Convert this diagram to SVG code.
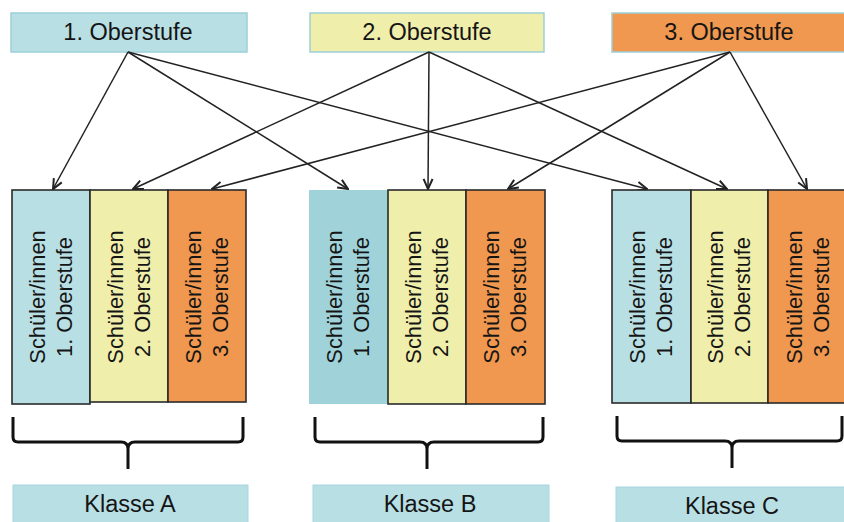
<svg xmlns="http://www.w3.org/2000/svg" width="844" height="522" viewBox="0 0 844 522">
  <defs>
    <style>
      .lbl { font-family: "Liberation Sans", Arial, sans-serif; font-size: 23.5px; fill: #151515; text-anchor: middle; }
      .vt { font-family: "Liberation Sans", Arial, sans-serif; font-size: 21.8px; fill: #151515; text-anchor: middle; }
      .head { stroke: #9ccfd8; stroke-width: 1.5; }
      .cell { stroke: #2a2a2a; stroke-width: 1.6; }
      .blue { fill: #b8dfe4; }
      .blue2 { fill: #9fd3d9; }
      .yellow { fill: #f0eeab; }
      .orange { fill: #f0984f; }
      .klasse { fill: #b8dfe4; stroke: #a8d6dd; stroke-width: 1; }
      .brace { fill: none; stroke: #111; stroke-width: 3; stroke-linejoin: round; }
      .conn line { stroke: #222; stroke-width: 1.5; marker-end: url(#arr); }
    </style>
    <marker id="arr" viewBox="0 0 12 12" refX="11" refY="6" markerWidth="12" markerHeight="12" markerUnits="userSpaceOnUse" orient="auto">
      <path d="M1,1.5 L11,6 L1,10.5" fill="none" stroke="#222" stroke-width="2"/>
    </marker>
  </defs>
  <rect width="844" height="522" fill="#ffffff"/>

  <!-- level headers -->
  <g id="stufe1">
    <rect class="head blue" x="11" y="13" width="236" height="39"/>
    <text class="lbl" x="128" y="40">1. Oberstufe</text>
  </g>
  <g id="stufe2">
    <rect class="head yellow" x="310" y="13" width="234" height="39"/>
    <text class="lbl" x="427" y="40">2. Oberstufe</text>
  </g>
  <g id="stufe3">
    <rect class="head orange" x="612" y="13" width="240" height="39"/>
    <text class="lbl" x="729" y="40">3. Oberstufe</text>
  </g>

  <!-- connectors -->
  <g id="connectors" class="conn">
    <line x1="128" y1="52" x2="53" y2="189"/>
    <line x1="128" y1="52" x2="348" y2="189"/>
    <line x1="128" y1="52" x2="647" y2="189"/>
    <line x1="429" y1="52" x2="133" y2="189"/>
    <line x1="429" y1="52" x2="428" y2="189"/>
    <line x1="429" y1="52" x2="727" y2="189"/>
    <line x1="730" y1="52" x2="212" y2="189"/>
    <line x1="730" y1="52" x2="508" y2="189"/>
    <line x1="730" y1="52" x2="807" y2="189"/>
  </g>

  <!-- class A -->
  <g id="klasseA-cells">
    <rect class="cell blue" x="12" y="190" width="78" height="214"/>
    <rect class="cell yellow" x="90" y="190" width="78" height="212"/>
    <rect class="cell orange" x="168" y="190" width="78" height="212"/>
    <text class="vt" transform="translate(45,297) rotate(-90)"><tspan x="0" y="0">Schüler/innen</tspan><tspan x="0" y="27">1. Oberstufe</tspan></text>
    <text class="vt" transform="translate(123,297) rotate(-90)"><tspan x="0" y="0">Schüler/innen</tspan><tspan x="0" y="27">2. Oberstufe</tspan></text>
    <text class="vt" transform="translate(201,297) rotate(-90)"><tspan x="0" y="0">Schüler/innen</tspan><tspan x="0" y="27">3. Oberstufe</tspan></text>
  </g>

  <!-- class B -->
  <g id="klasseB-cells">
    <rect class="blue2" x="309" y="190" width="79" height="214"/>
    <rect class="cell yellow" x="388" y="190" width="78" height="214"/>
    <rect class="cell orange" x="466" y="190" width="79" height="214"/>
    <text class="vt" transform="translate(342,297) rotate(-90)"><tspan x="0" y="0">Schüler/innen</tspan><tspan x="0" y="27">1. Oberstufe</tspan></text>
    <text class="vt" transform="translate(421,297) rotate(-90)"><tspan x="0" y="0">Schüler/innen</tspan><tspan x="0" y="27">2. Oberstufe</tspan></text>
    <text class="vt" transform="translate(499,297) rotate(-90)"><tspan x="0" y="0">Schüler/innen</tspan><tspan x="0" y="27">3. Oberstufe</tspan></text>
  </g>

  <!-- class C -->
  <g id="klasseC-cells">
    <rect class="cell blue" x="612" y="190" width="79" height="213"/>
    <rect class="cell yellow" x="691" y="190" width="77" height="213"/>
    <rect class="cell orange" x="768" y="190" width="80" height="213"/>
    <text class="vt" transform="translate(645,297) rotate(-90)"><tspan x="0" y="0">Schüler/innen</tspan><tspan x="0" y="27">1. Oberstufe</tspan></text>
    <text class="vt" transform="translate(723,297) rotate(-90)"><tspan x="0" y="0">Schüler/innen</tspan><tspan x="0" y="27">2. Oberstufe</tspan></text>
    <text class="vt" transform="translate(802,297) rotate(-90)"><tspan x="0" y="0">Schüler/innen</tspan><tspan x="0" y="27">3. Oberstufe</tspan></text>
  </g>

  <!-- braces -->
  <g id="braces">
    <path class="brace" d="M13,417 V437 Q13,442 18,442 H121 Q128,442 128,449 V469 M128,449 Q128,442 135,442 H238 Q243,442 243,437 V417"/>
    <path class="brace" d="M315,417 V437 Q315,442 320,442 H420 Q427,442 427,449 V469 M427,449 Q427,442 434,442 H538 Q543,442 543,437 V417"/>
    <path class="brace" d="M617,416 V436 Q617,441 622,441 H725 Q732,441 732,448 V468 M732,448 Q732,441 739,441 H837 Q842,441 842,436 V416"/>
  </g>

  <!-- class labels -->
  <g id="klasseA">
    <rect class="klasse" x="13" y="485" width="235" height="40"/>
    <text class="lbl" x="130" y="512">Klasse A</text>
  </g>
  <g id="klasseB">
    <rect class="klasse" x="313" y="485" width="236" height="40"/>
    <text class="lbl" x="430" y="512">Klasse B</text>
  </g>
  <g id="klasseC">
    <rect class="klasse" x="616" y="487" width="232" height="40"/>
    <text class="lbl" x="732" y="514">Klasse C</text>
  </g>
</svg>
